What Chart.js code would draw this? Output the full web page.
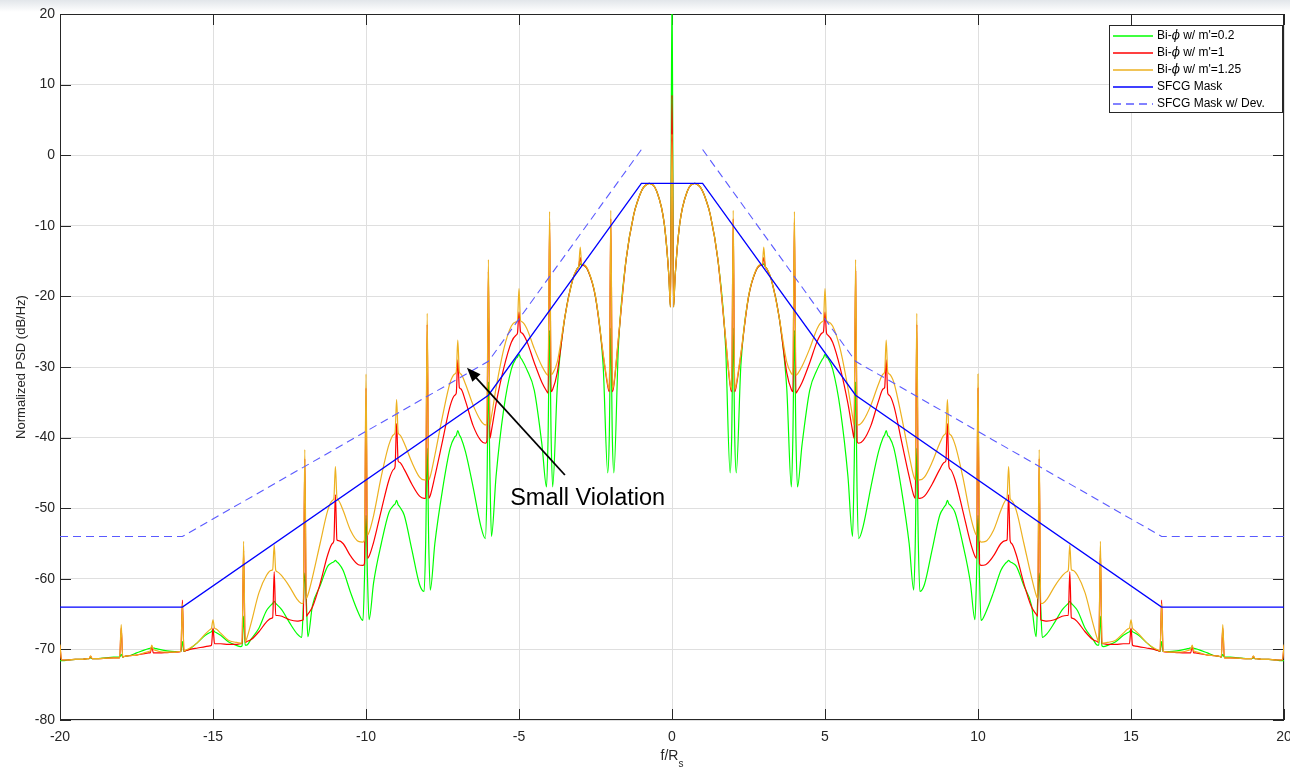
<!DOCTYPE html>
<html>
<head>
<meta charset="utf-8">
<script src="https://cdn.jsdelivr.net/npm/chart.js@4.4.1/dist/chart.umd.min.js"></script>
<style>
  html, body { margin: 0; padding: 0; background: #fff; }
  #wrap { width: 1290px; height: 768px; }
</style>
</head>
<body>
<div id="wrap"><canvas id="psdChart" width="1290" height="768"></canvas></div>
<script>
// normalized frequency f/Rs, same sampling for the three spectra
const freq = [
  -20, -19.95, -19.9, -19.75, -19.5, -19.25, -19.1, -19.05,
  -19, -18.95, -18.9, -18.75, -18.5, -18.25, -18.1, -18.05,
  -18, -17.95, -17.9, -17.75, -17.5, -17.25, -17.1, -17.05,
  -17, -16.95, -16.9, -16.75, -16.5, -16.25, -16.1, -16.05,
  -16, -15.95, -15.9, -15.75, -15.5, -15.25, -15.1, -15.05,
  -15, -14.95, -14.9, -14.75, -14.5, -14.25, -14.1, -14.05,
  -14, -13.95, -13.9, -13.75, -13.5, -13.25, -13.1, -13.05,
  -13, -12.95, -12.9, -12.75, -12.5, -12.25, -12.1, -12.05,
  -12, -11.95, -11.9, -11.75, -11.5, -11.25, -11.1, -11.05,
  -11, -10.95, -10.9, -10.75, -10.5, -10.25, -10.1, -10.05,
  -10, -9.95, -9.9, -9.75, -9.5, -9.25, -9.1, -9.05,
  -9, -8.95, -8.9, -8.75, -8.5, -8.25, -8.1, -8.05,
  -8, -7.95, -7.9, -7.75, -7.5, -7.25, -7.1, -7.05,
  -7, -6.95, -6.9, -6.75, -6.5, -6.25, -6.1, -6.05,
  -6, -5.95, -5.9, -5.75, -5.5, -5.25, -5.1, -5.05,
  -5, -4.95, -4.9, -4.75, -4.5, -4.25, -4.1, -4.05,
  -4, -3.95, -3.9, -3.75, -3.5, -3.25, -3.1, -3.05,
  -3, -2.95, -2.9, -2.75, -2.5, -2.25, -2.1, -2.05,
  -2, -1.95, -1.9, -1.75, -1.5, -1.25, -1.1, -1.05,
  -1, -0.95, -0.9, -0.75, -0.5, -0.25, -0.1, -0.05,
  0,
  0.05, 0.1, 0.25, 0.5, 0.75, 0.9, 0.95, 1,
  1.05, 1.1, 1.25, 1.5, 1.75, 1.9, 1.95, 2,
  2.05, 2.1, 2.25, 2.5, 2.75, 2.9, 2.95, 3,
  3.05, 3.1, 3.25, 3.5, 3.75, 3.9, 3.95, 4,
  4.05, 4.1, 4.25, 4.5, 4.75, 4.9, 4.95, 5,
  5.05, 5.1, 5.25, 5.5, 5.75, 5.9, 5.95, 6,
  6.05, 6.1, 6.25, 6.5, 6.75, 6.9, 6.95, 7,
  7.05, 7.1, 7.25, 7.5, 7.75, 7.9, 7.95, 8,
  8.05, 8.1, 8.25, 8.5, 8.75, 8.9, 8.95, 9,
  9.05, 9.1, 9.25, 9.5, 9.75, 9.9, 9.95, 10,
  10.05, 10.1, 10.25, 10.5, 10.75, 10.9, 10.95, 11,
  11.05, 11.1, 11.25, 11.5, 11.75, 11.9, 11.95, 12,
  12.05, 12.1, 12.25, 12.5, 12.75, 12.9, 12.95, 13,
  13.05, 13.1, 13.25, 13.5, 13.75, 13.9, 13.95, 14,
  14.05, 14.1, 14.25, 14.5, 14.75, 14.9, 14.95, 15,
  15.05, 15.1, 15.25, 15.5, 15.75, 15.9, 15.95, 16,
  16.05, 16.1, 16.25, 16.5, 16.75, 16.9, 16.95, 17,
  17.05, 17.1, 17.25, 17.5, 17.75, 17.9, 17.95, 18,
  18.05, 18.1, 18.25, 18.5, 18.75, 18.9, 18.95, 19,
  19.05, 19.1, 19.25, 19.5, 19.75, 19.9, 19.95, 20
];

// Bi-phi, m' = 0.2 (green)
const psdM02 = [
  -71.6, -71.6, -71.6, -71.5, -71.4, -71.4, -71.3, -71.3,
  -71.2, -71.3, -71.3, -71.3, -71.2, -71.1, -71.1, -71.1,
  -70.7, -71.1, -71.0, -70.9, -70.5, -70.1, -69.9, -69.85,
  -69.8, -69.8, -69.85, -70.0, -70.2, -70.3, -70.3, -70.3,
  -68.9, -70.3, -70.2, -69.9, -69.0, -68.0, -67.6, -67.5,
  -67.2, -67.5, -67.6, -68.0, -68.9, -69.4, -69.6, -69.5,
  -65.3, -69.4, -69.4, -68.5, -67.0, -64.5, -63.7, -63.5,
  -63.2, -63.5, -63.7, -64.4, -66.2, -67.8, -68.3, -64.0,
  -59.2, -63.0, -68.2, -63.8, -61.0, -58.2, -57.7, -57.6,
  -57.4, -57.6, -57.8, -58.8, -62.0, -64.8, -65.9, -60.0,
  -51.0, -60.0, -65.8, -60.5, -55.0, -50.6, -49.6, -49.4,
  -48.9, -49.5, -49.8, -51.0, -55.9, -60.8, -61.8, -55.0,
  -41.5, -55.0, -61.6, -55.0, -47.4, -41.5, -39.9, -39.7,
  -39.0, -39.6, -40.0, -42.0, -47.0, -52.5, -54.3, -48.0,
  -32.1, -45.0, -54.0, -45.5, -36.0, -30.3, -28.8, -28.6,
  -28.2, -28.7, -29.0, -30.3, -33.3, -41.0, -47.0, -40.0,
  -24.8, -40.0, -47.0, -33.0, -22.9, -17.7, -16.1, -15.8,
  -15.4, -15.6, -15.6, -16.3, -20.1, -29.8, -45.0, -40.0,
  -24.5, -40.0, -45.0, -27.0, -14.8, -8.4, -6.2, -5.6,
  -5.1, -4.7, -4.4, -4.0, -5.1, -9.8, -17.3, -21.5,
  25,
  -21.5, -17.3, -9.8, -5.1, -4.0, -4.4, -4.7, -5.1,
  -5.6, -6.2, -8.4, -14.8, -27.0, -45.0, -40.0, -24.5,
  -40.0, -45.0, -29.8, -20.1, -16.3, -15.6, -15.6, -15.4,
  -15.8, -16.1, -17.7, -22.9, -33.0, -47.0, -40.0, -24.8,
  -40.0, -47.0, -41.0, -33.3, -30.3, -29.0, -28.7, -28.2,
  -28.6, -28.8, -30.3, -36.0, -45.5, -54.0, -45.0, -32.1,
  -48.0, -54.3, -52.5, -47.0, -42.0, -40.0, -39.6, -39.0,
  -39.7, -39.9, -41.5, -47.4, -55.0, -61.6, -55.0, -41.5,
  -55.0, -61.8, -60.8, -55.9, -51.0, -49.8, -49.5, -48.9,
  -49.4, -49.6, -50.6, -55.0, -60.5, -65.8, -60.0, -51.0,
  -60.0, -65.9, -64.8, -62.0, -58.8, -57.8, -57.6, -57.4,
  -57.6, -57.7, -58.2, -61.0, -63.8, -68.2, -63.0, -59.2,
  -64.0, -68.3, -67.8, -66.2, -64.4, -63.7, -63.5, -63.2,
  -63.5, -63.7, -64.5, -67.0, -68.5, -69.4, -69.4, -65.3,
  -69.5, -69.6, -69.4, -68.9, -68.0, -67.6, -67.5, -67.2,
  -67.5, -67.6, -68.0, -69.0, -69.9, -70.2, -70.3, -68.9,
  -70.3, -70.3, -70.3, -70.2, -70.0, -69.85, -69.8, -69.8,
  -69.85, -69.9, -70.1, -70.5, -70.9, -71.0, -71.1, -70.7,
  -71.1, -71.1, -71.1, -71.2, -71.3, -71.3, -71.3, -71.2,
  -71.3, -71.3, -71.4, -71.4, -71.5, -71.6, -71.6, -71.6
];

// Bi-phi, m' = 1 (red)
const psdM1 = [
  -69.5, -71.5, -71.5, -71.5, -71.4, -71.4, -71.3, -71.3,
  -71.0, -71.3, -71.3, -71.3, -71.25, -71.2, -71.2, -71.2,
  -67.0, -71.1, -71.0, -70.9, -70.8, -70.6, -70.5, -70.5,
  -69.6, -70.5, -70.5, -70.5, -70.45, -70.4, -70.35, -70.3,
  -63.0, -70.3, -70.2, -70.0, -69.8, -69.6, -69.5, -69.4,
  -67.0, -69.2, -69.2, -69.2, -69.3, -69.3, -69.2, -69.1,
  -56.0, -69.0, -68.9, -68.6, -67.5, -66.1, -65.6, -65.5,
  -59.0, -65.2, -65.2, -65.3, -65.8, -66.0, -65.9, -65.8,
  -43.0, -65.3, -65.0, -64.0, -60.7, -56.6, -55.0, -54.6,
  -48.1, -54.5, -54.6, -55.0, -56.8, -58.0, -58.1, -57.8,
  -33.0, -57.1, -56.8, -54.8, -50.3, -46.0, -44.5, -44.1,
  -38.0, -43.3, -43.5, -44.5, -46.6, -48.3, -48.6, -48.6,
  -24.0, -48.6, -48.2, -45.5, -40.5, -35.5, -34.0, -33.7,
  -29.0, -32.9, -33.1, -34.8, -38.3, -40.4, -40.8, -40.5,
  -16.5, -40.1, -39.0, -35.2, -30.2, -26.5, -25.5, -25.2,
  -22.2, -25.0, -25.2, -26.3, -29.4, -32.2, -33.4, -33.7,
  -9.5, -33.5, -33.2, -30.8, -22.9, -17.7, -16.1, -15.8,
  -14.5, -15.6, -15.6, -16.3, -20.1, -28.3, -32.7, -33.5,
  -9.0, -33.5, -32.6, -26.0, -14.8, -8.4, -6.2, -5.6,
  -5.1, -4.7, -4.4, -4.0, -5.1, -9.8, -17.3, -21.5,
  8.5,
  -21.5, -17.3, -9.8, -5.1, -4.0, -4.4, -4.7, -5.1,
  -5.6, -6.2, -8.4, -14.8, -26.0, -32.6, -33.5, -9.0,
  -33.5, -32.7, -28.3, -20.1, -16.3, -15.6, -15.6, -14.5,
  -15.8, -16.1, -17.7, -22.9, -30.8, -33.2, -33.5, -9.5,
  -33.7, -33.4, -32.2, -29.4, -26.3, -25.2, -25.0, -22.2,
  -25.2, -25.5, -26.5, -30.2, -35.2, -39.0, -40.1, -16.5,
  -40.5, -40.8, -40.4, -38.3, -34.8, -33.1, -32.9, -29.0,
  -33.7, -34.0, -35.5, -40.5, -45.5, -48.2, -48.6, -24.0,
  -48.6, -48.6, -48.3, -46.6, -44.5, -43.5, -43.3, -38.0,
  -44.1, -44.5, -46.0, -50.3, -54.8, -56.8, -57.1, -33.0,
  -57.8, -58.1, -58.0, -56.8, -55.0, -54.6, -54.5, -48.1,
  -54.6, -55.0, -56.6, -60.7, -64.0, -65.0, -65.3, -43.0,
  -65.8, -65.9, -66.0, -65.8, -65.3, -65.2, -65.2, -59.0,
  -65.5, -65.6, -66.1, -67.5, -68.6, -68.9, -69.0, -56.0,
  -69.1, -69.2, -69.3, -69.3, -69.2, -69.2, -69.2, -67.0,
  -69.4, -69.5, -69.6, -69.8, -70.0, -70.2, -70.3, -63.0,
  -70.3, -70.35, -70.4, -70.45, -70.5, -70.5, -70.5, -69.6,
  -70.5, -70.5, -70.6, -70.8, -70.9, -71.0, -71.1, -67.0,
  -71.2, -71.2, -71.2, -71.25, -71.3, -71.3, -71.3, -71.0,
  -71.3, -71.3, -71.4, -71.4, -71.5, -71.5, -71.5, -69.5
];

// Bi-phi, m' = 1.25 (orange)
const psdM125 = [
  -69.3, -71.5, -71.5, -71.5, -71.4, -71.4, -71.3, -71.3,
  -70.9, -71.3, -71.3, -71.3, -71.25, -71.2, -71.2, -71.2,
  -66.5, -71.1, -71.0, -70.9, -70.8, -70.5, -70.3, -70.2,
  -69.4, -70.0, -70.1, -70.3, -70.4, -70.4, -70.3, -70.3,
  -63.5, -70.2, -70.1, -69.8, -69.0, -67.8, -67.2, -67.0,
  -65.8, -67.0, -67.1, -67.7, -68.7, -69.0, -69.1, -69.1,
  -54.7, -69.0, -68.5, -66.2, -62.0, -59.5, -58.8, -58.7,
  -55.2, -58.8, -59.0, -59.6, -61.1, -62.9, -63.5, -63.5,
  -41.7, -62.8, -62.3, -59.8, -55.0, -50.3, -48.9, -48.6,
  -44.1, -48.5, -48.9, -50.3, -53.2, -54.7, -54.8, -54.5,
  -31.0, -53.8, -53.4, -51.0, -45.5, -41.0, -39.6, -39.3,
  -34.6, -39.3, -39.6, -40.8, -43.5, -45.6, -46.0, -46.0,
  -22.4, -46.0, -45.5, -42.5, -37.0, -32.2, -31.0, -30.7,
  -26.2, -30.7, -31.0, -32.4, -35.4, -37.6, -38.2, -38.2,
  -14.8, -38.2, -37.0, -33.0, -27.5, -24.2, -23.6, -23.4,
  -18.9, -23.4, -23.6, -24.5, -27.4, -29.9, -31.0, -31.2,
  -8.0, -31.1, -30.9, -29.3, -22.9, -17.7, -16.1, -15.8,
  -13.0, -15.5, -15.5, -16.2, -20.0, -28.1, -32.4, -33.2,
  -7.8, -33.2, -32.3, -25.8, -14.7, -8.4, -6.2, -5.6,
  -5.1, -4.7, -4.4, -4.0, -5.1, -9.8, -17.3, -21.5,
  3.0,
  -21.5, -17.3, -9.8, -5.1, -4.0, -4.4, -4.7, -5.1,
  -5.6, -6.2, -8.4, -14.7, -25.8, -32.3, -33.2, -7.8,
  -33.2, -32.4, -28.1, -20.0, -16.2, -15.5, -15.5, -13.0,
  -15.8, -16.1, -17.7, -22.9, -29.3, -30.9, -31.1, -8.0,
  -31.2, -31.0, -29.9, -27.4, -24.5, -23.6, -23.4, -18.9,
  -23.4, -23.6, -24.2, -27.5, -33.0, -37.0, -38.2, -14.8,
  -38.2, -38.2, -37.6, -35.4, -32.4, -31.0, -30.7, -26.2,
  -30.7, -31.0, -32.2, -37.0, -42.5, -45.5, -46.0, -22.4,
  -46.0, -46.0, -45.6, -43.5, -40.8, -39.6, -39.3, -34.6,
  -39.3, -39.6, -41.0, -45.5, -51.0, -53.4, -53.8, -31.0,
  -54.5, -54.8, -54.7, -53.2, -50.3, -48.9, -48.5, -44.1,
  -48.6, -48.9, -50.3, -55.0, -59.8, -62.3, -62.8, -41.7,
  -63.5, -63.5, -62.9, -61.1, -59.6, -59.0, -58.8, -55.2,
  -58.7, -58.8, -59.5, -62.0, -66.2, -68.5, -69.0, -54.7,
  -69.1, -69.1, -69.0, -68.7, -67.7, -67.1, -67.0, -65.8,
  -67.0, -67.2, -67.8, -69.0, -69.8, -70.1, -70.2, -63.5,
  -70.3, -70.3, -70.4, -70.4, -70.3, -70.1, -70.0, -69.4,
  -70.2, -70.3, -70.5, -70.8, -70.9, -71.0, -71.1, -66.5,
  -71.2, -71.2, -71.2, -71.25, -71.3, -71.3, -71.3, -70.9,
  -71.3, -71.3, -71.4, -71.4, -71.5, -71.5, -71.5, -69.3
];

// SFCG spectral masks
const maskFreq = [-20, -16, -6, -1, 1, 6, 16, 20];
const maskDb = [-64, -64, -34, -4, -4, -34, -64, -64];
const devFreq = [-20, -16, -6, -1, 0, 1, 6, 16, 20];
const devDb = [-54, -54, -29.2, 0.8, null, 0.8, -29.2, -54, -54];

const seriesNames = ["Bi-\u03D5 w/ m'=0.2", "Bi-\u03D5 w/ m'=1", "Bi-\u03D5 w/ m'=1.25", "SFCG Mask", "SFCG Mask w/ Dev."];
const seriesColors = ['#00ff00', '#ff0000', '#edb120', '#0000ff', '#5a5aff'];

// annotation, in data units
const noteText = 'Small Violation';
const notePos = [-5.29, -49.5];
const arrowTail = [-3.5, -45.3];
const arrowHead = [-6.7, -30.1];

const axisColor = '#262626';
const fontFam = '"Liberation Sans", Arial, Helvetica, sans-serif';

function pts(xs, ys) {
  return xs.map((x, i) => ({ x: x, y: ys[i] }));
}

const decorations = {
  id: 'decorations',
  beforeDraw(chart) {
    const ctx = chart.ctx;
    ctx.save();
    ctx.fillStyle = '#ffffff';
    ctx.fillRect(0, 0, chart.width, chart.height);
    // faded strip where the title is cut off
    const g = ctx.createLinearGradient(0, 0, 0, 12);
    g.addColorStop(0, '#e2e6ea');
    g.addColorStop(1, '#ffffff');
    ctx.fillStyle = g;
    ctx.fillRect(0, 0, chart.width, 12);
    ctx.restore();
  },
  beforeDatasetsDraw(chart) {
    const ctx = chart.ctx;
    const a = chart.chartArea;
    const xs = chart.scales.x, ys = chart.scales.y;
    const tl = 11;
    ctx.save();
    ctx.strokeStyle = axisColor;
    ctx.lineWidth = 1;
    ctx.beginPath();
    xs.ticks.forEach(t => {
      const px = Math.round(xs.getPixelForValue(t.value)) + 0.5;
      ctx.moveTo(px, a.bottom); ctx.lineTo(px, a.bottom - tl);
      ctx.moveTo(px, a.top); ctx.lineTo(px, a.top + tl);
    });
    ys.ticks.forEach(t => {
      const py = Math.round(ys.getPixelForValue(t.value)) + 0.5;
      ctx.moveTo(a.left, py); ctx.lineTo(a.left + tl, py);
      ctx.moveTo(a.right, py); ctx.lineTo(a.right - tl, py);
    });
    ctx.stroke();
    ctx.strokeRect(Math.round(a.left) + 0.5, Math.round(a.top) + 0.5,
      Math.round(a.right - a.left) - 1, Math.round(a.bottom - a.top) - 1);
    ctx.restore();
  },
  afterDatasetsDraw(chart) {
    const ctx = chart.ctx;
    const a = chart.chartArea;
    const xs = chart.scales.x, ys = chart.scales.y;
    ctx.save();

    // arrow + note
    const x0 = xs.getPixelForValue(arrowTail[0]), y0 = ys.getPixelForValue(arrowTail[1]);
    const x1 = xs.getPixelForValue(arrowHead[0]), y1 = ys.getPixelForValue(arrowHead[1]);
    const ang = Math.atan2(y1 - y0, x1 - x0);
    const hl = 14, hw = 5.5;
    ctx.strokeStyle = '#000';
    ctx.fillStyle = '#000';
    ctx.lineWidth = 1.8;
    ctx.beginPath();
    ctx.moveTo(x0, y0);
    ctx.lineTo(x1 - Math.cos(ang) * (hl - 2), y1 - Math.sin(ang) * (hl - 2));
    ctx.stroke();
    ctx.beginPath();
    ctx.moveTo(x1, y1);
    ctx.lineTo(x1 - Math.cos(ang) * hl - Math.sin(ang) * hw, y1 - Math.sin(ang) * hl + Math.cos(ang) * hw);
    ctx.lineTo(x1 - Math.cos(ang) * hl + Math.sin(ang) * hw, y1 - Math.sin(ang) * hl - Math.cos(ang) * hw);
    ctx.closePath();
    ctx.fill();
    ctx.font = '23.5px ' + fontFam;
    ctx.textAlign = 'left';
    ctx.textBaseline = 'alphabetic';
    ctx.fillText(noteText, xs.getPixelForValue(notePos[0]), ys.getPixelForValue(notePos[1]));

    // legend box
    const lx = 1109.5, ly = 25.5, lw = 173, lh = 87;
    ctx.fillStyle = '#ffffff';
    ctx.fillRect(lx, ly, lw, lh);
    ctx.strokeStyle = axisColor;
    ctx.lineWidth = 1;
    ctx.strokeRect(lx, ly, lw, lh);
    seriesNames.forEach((name, i) => {
      const ry = 36 + i * 17;
      ctx.strokeStyle = seriesColors[i];
      ctx.lineWidth = 1.6;
      ctx.setLineDash(i === 4 ? [8, 5] : []);
      ctx.beginPath();
      ctx.moveTo(1113, ry);
      ctx.lineTo(1153, ry);
      ctx.stroke();
      ctx.setLineDash([]);
      ctx.fillStyle = '#000';
      ctx.textBaseline = 'middle';
      let tx = 1157;
      const parts = name.split('\u03D5');
      parts.forEach((p, k) => {
        ctx.font = '12px ' + fontFam;
        ctx.fillText(p, tx, ry);
        tx += ctx.measureText(p).width;
        if (k < parts.length - 1) {
          ctx.font = 'italic 12px "DejaVu Serif", serif';
          ctx.fillText('\u03D5', tx, ry);
          tx += ctx.measureText('\u03D5').width;
        }
      });
    });

    // axis titles
    ctx.fillStyle = axisColor;
    ctx.font = '13px ' + fontFam;
    ctx.textAlign = 'center';
    ctx.textBaseline = 'middle';
    ctx.save();
    ctx.translate(21, (a.top + a.bottom) / 2);
    ctx.rotate(-Math.PI / 2);
    ctx.fillText('Normalized PSD (dB/Hz)', 0, 0);
    ctx.restore();

    ctx.textAlign = 'left';
    ctx.textBaseline = 'alphabetic';
    ctx.font = '14px ' + fontFam;
    const mainW = ctx.measureText('f/R').width;
    ctx.font = '10px ' + fontFam;
    const subW = ctx.measureText('s').width;
    const sx = (a.left + a.right) / 2 - (mainW + subW) / 2;
    ctx.font = '14px ' + fontFam;
    ctx.fillText('f/R', sx, 760);
    ctx.font = '10px ' + fontFam;
    ctx.fillText('s', sx + mainW, 767);
    ctx.restore();
  }
};

const ctx = document.getElementById('psdChart');

new Chart(ctx, {
  type: 'line',
  data: {
    datasets: [
      { label: seriesNames[0], data: pts(freq, psdM02), borderColor: seriesColors[0], borderWidth: 1.2, order: 5 },
      { label: seriesNames[1], data: pts(freq, psdM1), borderColor: seriesColors[1], borderWidth: 1.2, order: 4 },
      { label: seriesNames[2], data: pts(freq, psdM125), borderColor: seriesColors[2], borderWidth: 1.2, order: 3 },
      { label: seriesNames[3], data: pts(maskFreq, maskDb), borderColor: seriesColors[3], borderWidth: 1.3, order: 2, cubicInterpolationMode: 'default', tension: 0 },
      { label: seriesNames[4], data: pts(devFreq, devDb), borderColor: seriesColors[4], borderWidth: 1.1, borderDash: [8, 5], order: 1, cubicInterpolationMode: 'default', tension: 0, spanGaps: false }
    ]
  },
  options: {
    responsive: false,
    animation: false,
    devicePixelRatio: 1,
    elements: {
      point: { radius: 0 },
      line: { cubicInterpolationMode: 'monotone', fill: false }
    },
    layout: { padding: { top: 14, right: 6, left: 0, bottom: 0 } },
    plugins: {
      legend: { display: false },
      tooltip: { enabled: false }
    },
    scales: {
      x: {
        type: 'linear',
        min: -20,
        max: 20,
        grid: { color: '#dfdfdf', drawTicks: false },
        border: { display: false },
        ticks: { stepSize: 5, padding: 9, maxRotation: 0, autoSkip: false, color: axisColor, font: { family: fontFam, size: 14 } },
        afterFit(scale) { scale.height = 48; scale.paddingLeft = 0; scale.paddingRight = 0; }
      },
      y: {
        type: 'linear',
        min: -80,
        max: 20,
        grid: { color: '#dfdfdf', drawTicks: false },
        border: { display: false },
        ticks: { stepSize: 10, padding: 5, color: axisColor, font: { family: fontFam, size: 14 } },
        afterFit(scale) { scale.width = 60; scale.paddingTop = 0; scale.paddingBottom = 0; }
      }
    }
  },
  plugins: [decorations]
});
</script>
</body>
</html>
